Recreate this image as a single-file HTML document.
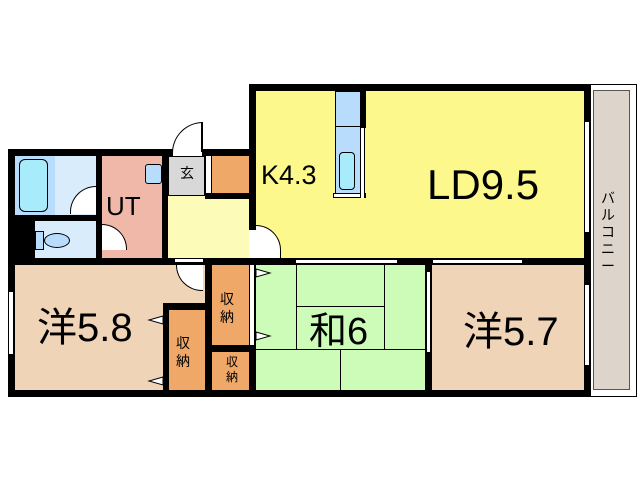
<!DOCTYPE html>
<html><head><meta charset="utf-8"><style>
body{margin:0;width:640px;height:480px;background:#fff;position:relative;overflow:hidden;font-family:"Liberation Sans","Noto Sans CJK JP",sans-serif}
div{position:absolute;box-sizing:border-box}
.b{background:#000}
.t{color:#000;white-space:nowrap;line-height:1}
.win{background:#fff;border-top:1px solid #000;border-bottom:1px solid #000}
.vwin{background:#fff;border-left:1px solid #000;border-right:1px solid #000}
</style></head><body>
<div style="left:590px;top:84px;width:47px;height:313px;border:1px solid #000;background:#fff"></div>
<div style="left:593px;top:90px;width:37px;height:300px;background:#ddd5cc;border:1px solid #555"></div>
<div class="t" style="left:601px;top:190px;font-size:14px;width:14px;line-height:17px;white-space:normal;text-align:center">バ<br>ル<br>コ<br>ニ<br>ー</div>
<div style="left:256px;top:91px;width:328px;height:167px;background:#fcf88c"></div>
<div style="left:335px;top:91px;width:30px;height:107px;background:#b8dcfc;border:1px solid #000"></div>
<div style="left:335px;top:91px;width:30px;height:36px;border-bottom:1px solid #000"></div>
<div style="left:339px;top:152px;width:16px;height:38px;background:#a8ecfc;border:1px solid #000;border-radius:4px"></div>
<div style="left:333px;top:193px;width:33px;height:5px;background:#fff;border:1px solid #000"></div>
<div class="b" style="left:360px;top:91px;width:6px;height:37px"></div>
<div class="vwin" style="left:360px;top:128px;width:5px;height:70px"></div>
<div class="t" style="left:261px;top:162px;font-size:27px">K4.3</div>
<div class="t" style="left:427px;top:164px;font-size:42px">LD9.5</div>
<div style="left:15px;top:156px;width:40px;height:59px;background:#b8dcfc"></div>
<div style="left:55px;top:156px;width:41px;height:59px;background:#d8ecfc"></div>
<div style="left:19px;top:159px;width:29px;height:53px;background:#a8ecfc;border:1px solid #000;border-radius:6px"></div>
<div style="left:70px;top:186px;width:26px;height:28px;border-top:1px solid #000;border-left:1px solid #000;border-radius:26px 0 0 0;background:#fff"></div>
<div class="b" style="left:15px;top:215px;width:87px;height:6px"></div>
<div class="b" style="left:15px;top:221px;width:20px;height:38px"></div>
<div style="left:35px;top:221px;width:61px;height:37px;background:#d8ecfc"></div>
<div style="left:35px;top:231px;width:9px;height:19px;background:#b8dcfc;border:1px solid #000"></div>
<div style="left:44px;top:233px;width:26px;height:15px;background:#b8dcfc;border:1px solid #000;border-radius:50%"></div>
<div class="b" style="left:96px;top:156px;width:6px;height:103px"></div>
<div style="left:102px;top:156px;width:60px;height:102px;background:#f0b8a8"></div>
<div style="left:102px;top:224px;width:25px;height:26px;border-top:1px solid #000;border-right:1px solid #000;border-radius:0 25px 0 0;background:#fff"></div>
<div style="left:145px;top:164px;width:17px;height:20px;background:#b8dcfc;border:1px solid #000;border-radius:3px"></div>
<div class="t" style="left:106px;top:193px;font-size:26px">UT</div>
<div class="b" style="left:162px;top:156px;width:6px;height:103px"></div>
<div style="left:168px;top:156px;width:37px;height:40px;background:#d8d8d8;border:1px solid #000"></div>
<div class="t" style="left:180px;top:166px;font-size:14px">玄</div>
<div style="left:168px;top:196px;width:81px;height:62px;background:#fcfcb8"></div>
<div class="vwin" style="left:205px;top:156px;width:7px;height:37px"></div>
<div style="left:212px;top:156px;width:37px;height:37px;background:#f0a868"></div>
<div class="b" style="left:205px;top:193px;width:44px;height:6px"></div>
<div style="left:172px;top:122px;width:31px;height:31px;border-top:1px solid #000;border-left:1px solid #000;border-radius:31px 0 0 0;background:#fff"></div>
<div style="left:201px;top:122px;width:2px;height:30px;background:#000"></div>
<div class="b" style="left:8px;top:149px;width:165px;height:7px"></div>
<div class="b" style="left:202px;top:149px;width:54px;height:7px"></div>
<div class="b" style="left:249px;top:84px;width:342px;height:7px"></div>
<div class="b" style="left:249px;top:84px;width:7px;height:146px"></div>
<div class="b" style="left:584px;top:84px;width:7px;height:313px"></div>
<div class="vwin" style="left:584px;top:122px;width:6px;height:110px"></div>
<div class="vwin" style="left:584px;top:285px;width:6px;height:80px"></div>
<div class="b" style="left:8px;top:149px;width:7px;height:248px"></div>
<div class="vwin" style="left:8px;top:292px;width:6px;height:62px"></div>
<div class="b" style="left:8px;top:390px;width:583px;height:7px"></div>
<div class="b" style="left:8px;top:258px;width:576px;height:7px"></div>
<div class="win" style="left:175px;top:258px;width:28px;height:5px"></div>
<div class="win" style="left:296px;top:259px;width:101px;height:5px"></div>
<div class="win" style="left:433px;top:259px;width:89px;height:5px"></div>
<div style="left:15px;top:265px;width:190px;height:125px;background:#f0d4b8"></div>
<div style="left:176px;top:265px;width:27px;height:26px;border-bottom:1px solid #000;border-left:1px solid #000;border-radius:0 0 0 27px;background:#fff"></div>
<div class="b" style="left:163px;top:303px;width:42px;height:7px"></div>
<div class="b" style="left:163px;top:303px;width:6px;height:87px"></div>
<div style="left:169px;top:310px;width:36px;height:80px;background:#f0a868"></div>
<div class="t" style="left:176px;top:334px;font-size:14px;width:16px;white-space:normal;line-height:18px">収納</div>
<div class="t" style="left:37px;top:308px;font-size:40px">洋5.8</div>
<div class="b" style="left:205px;top:258px;width:7px;height:139px"></div>
<div style="left:212px;top:265px;width:37px;height:80px;background:#f0a868"></div>
<div class="t" style="left:220px;top:290px;font-size:14px;width:16px;white-space:normal;line-height:18px">収納</div>
<div class="b" style="left:205px;top:345px;width:51px;height:7px"></div>
<div style="left:212px;top:352px;width:37px;height:38px;background:#f0a868"></div>
<div class="t" style="left:226px;top:355px;font-size:12px;width:13px;white-space:normal;line-height:15px">収納</div>
<div class="b" style="left:249px;top:258px;width:7px;height:139px"></div>
<div class="vwin" style="left:249px;top:265px;width:6px;height:80px"></div>
<div style="left:256px;top:265px;width:170px;height:125px;background:#ccfcb8"></div>
<div style="left:296px;top:265px;width:89px;height:85px;border-left:1px solid #000;border-right:1px solid #000"></div>
<div style="left:296px;top:306px;width:89px;height:1px;background:#000"></div>
<div style="left:256px;top:349px;width:170px;height:1px;background:#000"></div>
<div style="left:340px;top:349px;width:1px;height:41px;background:#000"></div>
<div class="t" style="left:309px;top:313px;font-size:38px">和6</div>
<div class="b" style="left:425px;top:258px;width:7px;height:139px"></div>
<div class="vwin" style="left:426px;top:272px;width:5px;height:80px"></div>
<div style="left:432px;top:265px;width:152px;height:125px;background:#f0d4b8"></div>
<div class="t" style="left:463px;top:312px;font-size:40px">洋5.7</div>
<div style="left:256px;top:225px;width:25px;height:33px;border-top:1px solid #000;border-right:1px solid #000;border-radius:0 25px 0 0;background:#fff"></div>
<svg style="position:absolute;left:0;top:0" width="640" height="480"><g fill="#fff" stroke="#000" stroke-width="1"><path d="M256 269 L270 273 L256 277Z"/><path d="M256 332 L270 336 L256 340Z"/><path d="M163 316 L149 320 L163 324Z"/><path d="M163 377 L149 381 L163 385Z"/></g></svg>
</body></html>
